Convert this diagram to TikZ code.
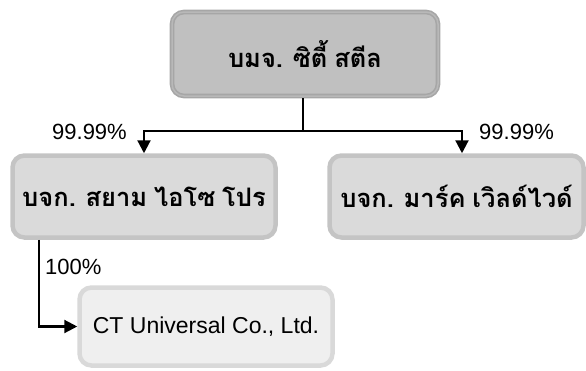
\documentclass[tikz,border=0pt]{standalone}
\usepackage{fontspec}
\setmainfont{Liberation Sans}
\newfontfamily\thaifont[Script=Thai,WordSpace=0.8]{Loma}
\usetikzlibrary{arrows.meta}
\definecolor{topfill}{HTML}{C0C0C0}
\definecolor{topline}{HTML}{A6A6A6}
\definecolor{midfill}{HTML}{DADADA}
\definecolor{midline}{HTML}{C4C4C4}
\definecolor{lowfill}{HTML}{EFEFEF}
\definecolor{lowline}{HTML}{D9D9D9}
\tikzset{
	firm/.style={rounded corners=12pt, line width=4.5pt, align=center},
	thname/.style={font=\thaifont\bfseries\fontsize{25.5}{30}\selectfont},
	share/.style={font=\fontsize{22}{26}\selectfont, inner sep=1pt},
	own/.style={line width=2.2pt, -{Triangle[length=13pt,width=13pt]}}
}
\begin{document}
\begin{tikzpicture}[x=1pt,y=-1pt]
		\useasboundingbox (0,0) rectangle (586,370);
		\node[firm, thname, draw=topline, double=topfill!70!topline, double distance=1.5pt, line width=1.6pt, fill=topfill, minimum width=266pt, minimum height=84pt] (top) at (305,54) {บมจ. ซิตี้ สตีล};
		\node[firm, thname, draw=midline, fill=midfill, minimum width=263pt, minimum height=82pt] (left) at (144,196.5) {บจก. สยาม ไอโซ โปร};
		\node[firm, thname, draw=midline, fill=midfill, minimum width=254pt, minimum height=82pt] (right) at (456.5,196.5) {บจก. มาร์ค เวิลด์ไวด์};
		\node[firm, draw=lowline, fill=lowfill, minimum width=253pt, minimum height=78pt, font=\fontsize{23}{27}\selectfont] (low) at (206,326.5) {CT Universal Co., Ltd.};
		\coordinate (split) at (303,131);
		\draw[line width=2.2pt] (303,98) -- (split);
		\draw[own] (split) -| (left.north);
		\draw[own] (split) -| ([xshift=5.5pt]right.north);
		\draw[own] ([xshift=-105pt]left.south) |- (low.west);
		\node[share, anchor=east] (p1) at (128,132) {99.99\%};
		\node[share, anchor=west] (p2) at (478,132) {99.99\%};
		\node[share, anchor=west] (p3) at (44,267) {100\%};
	\end{tikzpicture}
\end{document}
